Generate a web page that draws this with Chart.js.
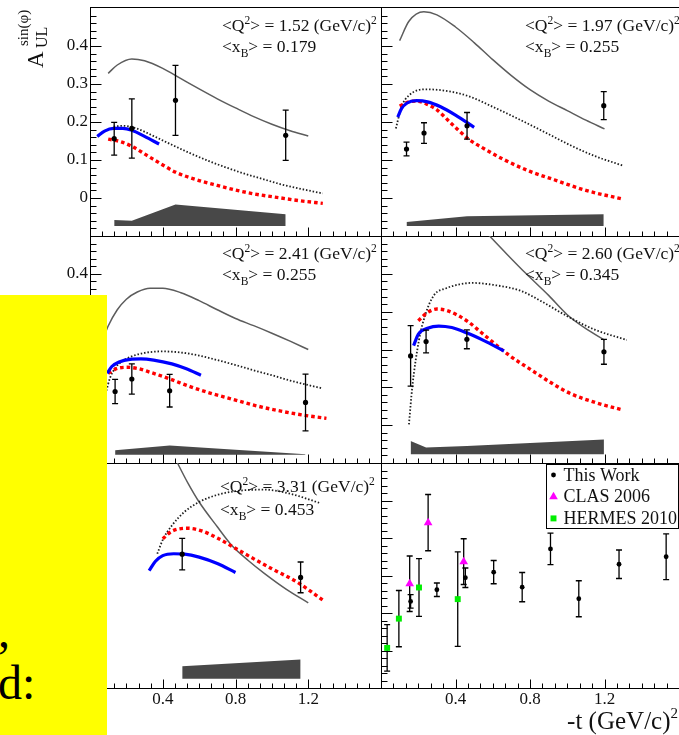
<!DOCTYPE html>
<html>
<head>
<meta charset="utf-8">
<title>Beam-spin asymmetry sin(phi) moment vs -t</title>
<script src="https://cdn.jsdelivr.net/npm/chart.js@4.4.1/dist/chart.umd.min.js"></script>
<style>
  html, body { margin: 0; padding: 0; background: #fff; }
  #page { position: relative; width: 679px; height: 735px; overflow: hidden; background: #fff;
          font-family: 'Liberation Serif', 'Times New Roman', serif; color: #111; }
  #page canvas { position: absolute; left: 0; top: 0; }
  .kin { position: absolute; font-size: 17.5px; line-height: 18px; white-space: nowrap; }
  .kin sup { font-size: 11.5px; line-height: 0; vertical-align: 7px; }
  .kin sub { font-size: 11.5px; line-height: 0; vertical-align: -5px; }
  #ytitle { position: absolute; left: 2px; top: 22px; width: 62px; height: 32px; transform: rotate(-90deg); }
  #ytitle span { position: absolute; line-height: 1; white-space: nowrap; }
  #xtitle { position: absolute; right: 1px; top: 708px; font-size: 25px; line-height: 25px; white-space: nowrap; }
  #xtitle sup { font-size: 15px; line-height: 0; vertical-align: 11px; }
  #note { position: absolute; left: 0; top: 295px; width: 107px; height: 440px; background: #ffff00; overflow: hidden; }
  #note span { position: absolute; font-size: 48px; line-height: 48px; color: #000; white-space: nowrap; }
</style>
</head>
<body>
<div id="page">
  <canvas id="c1" width="679" height="735"></canvas>
  <canvas id="c2" width="679" height="735"></canvas>
  <canvas id="c3" width="679" height="735"></canvas>
  <canvas id="c4" width="679" height="735"></canvas>
  <canvas id="c5" width="679" height="735"></canvas>
  <canvas id="c6" width="679" height="735"></canvas>

  <div class="kin" style="left:222px;top:16px">&lt;Q<sup>2</sup>&gt; = 1.52 (GeV/c)<sup>2</sup></div>
  <div class="kin" style="left:222px;top:37px">&lt;x<sub>B</sub>&gt; = 0.179</div>
  <div class="kin" style="left:525px;top:16px">&lt;Q<sup>2</sup>&gt; = 1.97 (GeV/c)<sup>2</sup></div>
  <div class="kin" style="left:525px;top:37px">&lt;x<sub>B</sub>&gt; = 0.255</div>
  <div class="kin" style="left:222px;top:244px">&lt;Q<sup>2</sup>&gt; = 2.41 (GeV/c)<sup>2</sup></div>
  <div class="kin" style="left:222px;top:265px">&lt;x<sub>B</sub>&gt; = 0.255</div>
  <div class="kin" style="left:525px;top:244px">&lt;Q<sup>2</sup>&gt; = 2.60 (GeV/c)<sup>2</sup></div>
  <div class="kin" style="left:525px;top:265px">&lt;x<sub>B</sub>&gt; = 0.345</div>
  <div class="kin" style="left:220px;top:477px">&lt;Q<sup>2</sup>&gt; = 3.31 (GeV/c)<sup>2</sup></div>
  <div class="kin" style="left:220px;top:500px">&lt;x<sub>B</sub>&gt; = 0.453</div>

  <div id="ytitle">
    <span style="left:1px;top:7px;font-size:23px">A</span>
    <span style="left:21px;top:17px;font-size:16px">UL</span>
    <span style="left:23px;top:-1px;font-size:15px">sin(φ)</span>
  </div>
  <div id="xtitle">-t (GeV/c)<sup>2</sup></div>

  <div id="note">
    <span style="left:-2px;top:312px">,</span>
    <span style="left:-2px;top:364px">d:</span>
  </div>
</div>

<script>
// ---- kinematic bin 1: <Q2> = 1.52, <xB> = 0.179 ----
const b1_t  = [0.133, 0.230, 0.470, 1.076];
const b1_A  = [0.156, 0.183, 0.257, 0.165];
const b1_dA = [0.043, 0.078, 0.092, 0.066];
const b1_solid_t  = [0.10, 0.15, 0.23, 0.30, 0.40, 0.50, 0.60, 0.70, 0.80, 0.90, 1.00, 1.10, 1.20];
const b1_solid_A  = [0.328, 0.350, 0.366, 0.361, 0.341, 0.314, 0.287, 0.261, 0.237, 0.214, 0.194, 0.177, 0.163];
const b1_dotted_t = [0.13, 0.18, 0.25, 0.35, 0.45, 0.55, 0.65, 0.75, 0.85, 0.95, 1.05, 1.15, 1.28];
const b1_dotted_A = [0.188, 0.190, 0.184, 0.163, 0.140, 0.118, 0.098, 0.080, 0.064, 0.050, 0.036, 0.025, 0.012];
const b1_red_t    = [0.10, 0.17, 0.23, 0.32, 0.40, 0.47, 0.60, 0.70, 0.80, 0.90, 1.05, 1.15, 1.28];
const b1_red_A    = [0.155, 0.148, 0.136, 0.110, 0.087, 0.068, 0.046, 0.033, 0.021, 0.011, 0.000, -0.007, -0.014];
const b1_blue_t   = [0.04, 0.08, 0.13, 0.18, 0.23, 0.30, 0.38];
const b1_blue_A   = [0.162, 0.176, 0.183, 0.183, 0.178, 0.162, 0.142];
const b1_sys_t    = [0.133, 0.230, 0.470, 1.076];
const b1_sys_top  = [-0.058, -0.060, -0.017, -0.043];
const b1_sys_base = -0.074;

// ---- kinematic bin 2: <Q2> = 1.97, <xB> = 0.255 ----
const b2_t  = [0.137, 0.231, 0.462, 1.196];
const b2_A  = [0.129, 0.171, 0.190, 0.243];
const b2_dA = [0.018, 0.027, 0.035, 0.037];
const b2_solid_t  = [0.10, 0.15, 0.23, 0.30, 0.40, 0.50, 0.60, 0.70, 0.80, 0.90, 1.00, 1.10, 1.20];
const b2_solid_A  = [0.414, 0.465, 0.490, 0.482, 0.450, 0.409, 0.364, 0.322, 0.285, 0.255, 0.230, 0.205, 0.182];
const b2_dotted_t = [0.08, 0.11, 0.15, 0.24, 0.35, 0.47, 0.60, 0.75, 0.90, 1.02, 1.15, 1.30];
const b2_dotted_A = [0.183, 0.240, 0.270, 0.286, 0.282, 0.268, 0.240, 0.205, 0.168, 0.138, 0.110, 0.085];
const b2_red_t    = [0.10, 0.15, 0.19, 0.25, 0.30, 0.38, 0.47, 0.56, 0.66, 0.80, 0.93, 1.10, 1.30];
const b2_red_A    = [0.242, 0.253, 0.255, 0.246, 0.232, 0.195, 0.155, 0.128, 0.101, 0.070, 0.048, 0.020, -0.003];
const b2_blue_t   = [0.09, 0.11, 0.14, 0.19, 0.25, 0.32, 0.40, 0.50];
const b2_blue_A   = [0.213, 0.235, 0.250, 0.256, 0.253, 0.240, 0.218, 0.186];
const b2_sys_t    = [0.137, 0.462, 1.196];
const b2_sys_top  = [-0.063, -0.048, -0.043];
const b2_sys_base = -0.074;

// ---- kinematic bin 3: <Q2> = 2.41, <xB> = 0.255 ----
const b3_t  = [0.138, 0.230, 0.438, 1.185];
const b3_A  = [0.089, 0.122, 0.091, 0.060];
const b3_dA = [0.032, 0.040, 0.043, 0.075];
const b3_solid_t  = [0.07, 0.10, 0.15, 0.20, 0.26, 0.33, 0.40, 0.50, 0.60, 0.70, 0.80, 0.90, 1.00, 1.10, 1.20];
const b3_solid_A  = [0.225, 0.262, 0.305, 0.333, 0.352, 0.362, 0.362, 0.350, 0.329, 0.305, 0.282, 0.263, 0.243, 0.222, 0.200];
const b3_dotted_t = [0.09, 0.11, 0.14, 0.18, 0.23, 0.30, 0.40, 0.50, 0.60, 0.70, 0.80, 0.90, 1.00, 1.10, 1.20, 1.28];
const b3_dotted_A = [0.091, 0.125, 0.152, 0.170, 0.182, 0.191, 0.195, 0.192, 0.184, 0.172, 0.159, 0.145, 0.132, 0.118, 0.106, 0.097];
const b3_red_t    = [0.10, 0.15, 0.20, 0.26, 0.33, 0.44, 0.55, 0.66, 0.78, 0.90, 1.05, 1.18, 1.30];
const b3_red_A    = [0.137, 0.150, 0.153, 0.150, 0.140, 0.122, 0.102, 0.085, 0.069, 0.053, 0.037, 0.026, 0.018];
const b3_blue_t   = [0.095, 0.12, 0.16, 0.22, 0.28, 0.35, 0.45, 0.53, 0.61];
const b3_blue_A   = [0.137, 0.155, 0.167, 0.174, 0.175, 0.172, 0.162, 0.149, 0.132];
const b3_sys_t    = [0.138, 0.438, 1.185];
const b3_sys_top  = [-0.066, -0.054, -0.077];
const b3_sys_base = -0.078;

// ---- kinematic bin 4: <Q2> = 2.60, <xB> = 0.345 ----
const b4_t  = [0.159, 0.242, 0.461, 1.197];
const b4_A  = [0.183, 0.221, 0.227, 0.194];
const b4_dA = [0.080, 0.030, 0.025, 0.033];
const b4_solid_t  = [0.45, 0.583, 0.68, 0.78, 0.90, 1.00, 1.10, 1.20];
const b4_solid_A  = [0.570, 0.500, 0.450, 0.400, 0.343, 0.292, 0.255, 0.225];
const b4_dotted_t = [0.150, 0.168, 0.204, 0.24, 0.285, 0.35, 0.42, 0.49, 0.60, 0.75, 0.87, 1.00, 1.15, 1.32];
const b4_dotted_A = [0.002, 0.101, 0.225, 0.295, 0.344, 0.362, 0.372, 0.376, 0.371, 0.355, 0.325, 0.288, 0.252, 0.225];
const b4_red_t    = [0.20, 0.25, 0.30, 0.36, 0.46, 0.55, 0.69, 0.80, 0.92, 1.02, 1.15, 1.30];
const b4_red_A    = [0.276, 0.298, 0.307, 0.302, 0.276, 0.240, 0.184, 0.148, 0.110, 0.083, 0.060, 0.040];
const b4_blue_t   = [0.175, 0.20, 0.25, 0.31, 0.38, 0.46, 0.55, 0.66];
const b4_blue_A   = [0.210, 0.240, 0.256, 0.262, 0.258, 0.244, 0.224, 0.196];
const b4_sys_t    = [0.159, 0.242, 0.461, 1.197];
const b4_sys_top  = [-0.042, -0.059, -0.055, -0.038];
const b4_sys_base = -0.077;

// ---- kinematic bin 5: <Q2> = 3.31, <xB> = 0.453 ----
const b5_t  = [0.507, 1.158];
const b5_A  = [0.257, 0.195];
const b5_dA = [0.042, 0.041];
const b5_solid_t  = [0.44, 0.483, 0.54, 0.60, 0.70, 0.78, 0.87, 0.96, 1.08, 1.20];
const b5_solid_A  = [0.540, 0.498, 0.445, 0.396, 0.330, 0.280, 0.240, 0.205, 0.163, 0.127];
const b5_dotted_t = [0.37, 0.40, 0.45, 0.52, 0.60, 0.70, 0.80, 0.96, 1.10, 1.26];
const b5_dotted_A = [0.258, 0.295, 0.333, 0.370, 0.396, 0.415, 0.425, 0.429, 0.418, 0.394];
const b5_red_t    = [0.40, 0.45, 0.54, 0.62, 0.70, 0.78, 0.88, 1.00, 1.14, 1.29];
const b5_red_A    = [0.298, 0.318, 0.326, 0.318, 0.300, 0.278, 0.250, 0.218, 0.182, 0.131];
const b5_blue_t   = [0.325, 0.36, 0.40, 0.46, 0.52, 0.60, 0.70, 0.80];
const b5_blue_A   = [0.213, 0.238, 0.253, 0.258, 0.257, 0.249, 0.232, 0.208];
const b5_sys_t    = [0.507, 1.158];
const b5_sys_top  = [-0.042, -0.024];
const b5_sys_base = -0.075;

// ---- t-dependence integrated over kinematics, with world data ----
const thisWork_t  = [0.159, 0.300, 0.453, 0.605, 0.758, 0.910, 1.062, 1.278, 1.531];
const thisWork_A  = [0.131, 0.162, 0.194, 0.209, 0.169, 0.271, 0.138, 0.230, 0.250];
const thisWork_dA = [0.018, 0.018, 0.026, 0.031, 0.039, 0.042, 0.048, 0.038, 0.061];
const clas2006_t  = [0.154, 0.253, 0.444];
const clas2006_A  = [0.178, 0.341, 0.237];
const clas2006_dA = [0.074, 0.075, 0.061];
const hermes2010_t  = [0.033, 0.096, 0.204, 0.412];
const hermes2010_A  = [0.007, 0.085, 0.168, 0.137];
const hermes2010_dA = [0.062, 0.075, 0.077, 0.126];

// axis ticks
const xTickLabels = ['0.4', '0.8', '1.2'];
const yTickLabels = ['0', '0.1', '0.2', '0.3', '0.4'];

// ---------------------------------------------------------------------------
const W = 679, H = 735;
const COLS = [[90, 381], [381, 679]];
const ROWS = [[8, 236], [236, 463], [463, 688]];
const TICK_FONT = { family: "'Liberation Serif', 'Times New Roman', serif", size: 17 };

const xy = (t, a) => t.map((v, i) => ({ x: v, y: a[i] }));

function curve(t, a, style) {
  return Object.assign({ data: xy(t, a), pointRadius: 0, fill: false,
    cubicInterpolationMode: 'monotone', borderCapStyle: 'butt' }, style);
}
const solid  = (t, a) => curve(t, a, { borderColor: '#5c5c5c', borderWidth: 1.5 });
const dotted = (t, a) => curve(t, a, { borderColor: '#1e1e1e', borderWidth: 1.8, borderDash: [1.5, 1.9] });
const red    = (t, a) => curve(t, a, { borderColor: '#ff0000', borderWidth: 3.4, borderDash: [3.6, 3] });
const blue   = (t, a) => curve(t, a, { borderColor: '#0000ff', borderWidth: 3.2 });

function band(t, top, base) {
  return { data: xy(t, top), fill: { value: base }, backgroundColor: '#484848',
    borderWidth: 0, pointRadius: 0, tension: 0 };
}
function markers(label, t, a, da, style) {
  return Object.assign({ label, data: xy(t, a), errors: da, showLine: false,
    pointStyle: 'circle', pointRadius: 2.6, pointBackgroundColor: '#000',
    pointBorderWidth: 0, borderColor: '#000', backgroundColor: '#000' }, style);
}

// ROOT-style frame: axis lines with inward major/minor ticks
const rootFrame = {
  id: 'rootFrame',
  afterDatasetsDraw(chart, args, opts) {
    const { ctx, chartArea: a, scales: { x, y } } = chart;
    const L = Math.round(a.left) + 0.5, B = Math.round(a.bottom) + 0.5;
    ctx.save();
    ctx.strokeStyle = '#000';
    ctx.lineWidth = 1;
    ctx.beginPath();
    ctx.moveTo(L, opts.topLine ? Math.round(a.top) - 1 : Math.round(a.top));
    ctx.lineTo(L, B);
    ctx.moveTo(L - 0.5, B);
    ctx.lineTo(Math.round(a.right), B);
    if (opts.topLine) {
      ctx.moveTo(L - 0.5, Math.round(a.top) - 0.5);
      ctx.lineTo(Math.round(a.right), Math.round(a.top) - 0.5);
    }
    const yStep = 0.02, ny = Math.round((y.max - y.min) / yStep);
    for (let i = 1; i < ny; i++) {
      const py = Math.round(y.getPixelForValue(y.min + i * yStep)) + 0.5;
      ctx.moveTo(L, py);
      ctx.lineTo(L + (i % 5 === 0 ? 11 : 6), py);
    }
    const xStep = 0.4 / 6, nx = Math.round((x.max - x.min) / xStep);
    for (let i = 1; i <= nx; i++) {
      const px = Math.round(x.getPixelForValue(x.min + i * xStep)) + 0.5;
      ctx.moveTo(px, B);
      ctx.lineTo(px, B - (i % 6 === 0 ? 9 : 5));
    }
    ctx.stroke();
    ctx.restore();
  }
};

// vertical error bars with small caps, drawn just under each marker set
const errorBars = {
  id: 'errorBars',
  beforeDatasetDraw(chart, args) {
    const ds = chart.data.datasets[args.index];
    if (!ds.errors) return;
    const { ctx, scales: { y } } = chart;
    ctx.save();
    ctx.strokeStyle = '#000';
    ctx.lineWidth = 1.3;
    ctx.beginPath();
    args.meta.data.forEach((pt, i) => {
      const v = ds.data[i].y, e = ds.errors[i];
      const y1 = y.getPixelForValue(v + e), y2 = y.getPixelForValue(v - e);
      ctx.moveTo(pt.x, y1); ctx.lineTo(pt.x, y2);
      ctx.moveTo(pt.x - 3, y1); ctx.lineTo(pt.x + 3, y1);
      ctx.moveTo(pt.x - 3, y2); ctx.lineTo(pt.x + 3, y2);
    });
    ctx.stroke();
    ctx.restore();
  }
};

// boxed legend in the upper right corner of the plot area
const boxLegend = {
  id: 'boxLegend',
  afterDraw(chart, args, opts) {
    if (!opts.show) return;
    const { ctx, chartArea: a } = chart;
    const items = chart.data.datasets.filter(d => d.label);
    const w = 132, h = 64;
    const x0 = Math.round(a.right) - w - 0.5, y0 = Math.round(a.top) + 1.5;
    ctx.save();
    ctx.fillStyle = '#fff';
    ctx.fillRect(x0, y0, w, h);
    ctx.strokeStyle = '#000';
    ctx.lineWidth = 1;
    ctx.strokeRect(x0, y0, w, h);
    ctx.font = "18px 'Liberation Serif', 'Times New Roman', serif";
    ctx.textBaseline = 'middle';
    items.forEach((d, i) => {
      const cy = y0 + 10.5 + i * 21.7;
      ctx.fillStyle = d.pointBackgroundColor;
      ctx.strokeStyle = d.pointBackgroundColor;
      Chart.helpers.drawPoint(ctx, { pointStyle: d.pointStyle, radius: d.pointRadius, rotation: 0, borderWidth: 0 }, x0 + 7, cy);
      ctx.fillStyle = '#111';
      ctx.fillText(d.label, x0 + 17, cy + 1);
    });
    ctx.restore();
  }
};

function makePanel(id, col, row, datasets, opt) {
  const yw = opt.yLabels ? 40 : 0, xh = opt.xLabels ? 32 : 0;
  const [left, right] = COLS[col], [top, bottom] = ROWS[row];
  new Chart(document.getElementById(id), {
    type: 'line',
    data: { datasets },
    options: {
      responsive: false, animation: false, devicePixelRatio: 1,
      layout: { autoPadding: false,
        padding: { left: left - yw, top, right: W - right, bottom: H - bottom - xh } },
      plugins: {
        legend: { display: false }, tooltip: { enabled: false },
        rootFrame: { topLine: row === 0 },
        boxLegend: { show: !!opt.legend }
      },
      scales: {
        x: {
          type: 'linear', min: 0, max: 1.6, display: !!opt.xLabels,
          grid: { display: false, drawTicks: false }, border: { display: false },
          ticks: { stepSize: 0.4, padding: 1, maxRotation: 0, autoSkip: false, font: TICK_FONT, color: '#111',
            callback: v => { const s = v.toFixed(1); return xTickLabels.includes(s) ? s : ''; } },
          afterFit: s => { s.height = xh; s.paddingLeft = 0; s.paddingRight = 0; }
        },
        y: {
          type: 'linear', min: -0.1, max: 0.5, display: !!opt.yLabels,
          grid: { display: false, drawTicks: false }, border: { display: false },
          ticks: { stepSize: 0.1, padding: 2, autoSkip: false, font: TICK_FONT, color: '#111',
            callback: v => { const s = Math.abs(v) < 1e-6 ? '0' : v.toFixed(1); return yTickLabels.includes(s) ? s : ''; } },
          afterFit: s => { s.width = yw; s.paddingTop = 0; s.paddingBottom = 0; }
        }
      }
    },
    plugins: [rootFrame, errorBars, boxLegend]
  });
}

function binSets(t, A, dA, so, do_, re, bl, sys) {
  return [
    markers(undefined, t, A, dA, {}),
    blue(bl[0], bl[1]),
    red(re[0], re[1]),
    dotted(do_[0], do_[1]),
    solid(so[0], so[1]),
    band(sys[0], sys[1], sys[2])
  ];
}

makePanel('c1', 0, 0, binSets(b1_t, b1_A, b1_dA, [b1_solid_t, b1_solid_A], [b1_dotted_t, b1_dotted_A],
  [b1_red_t, b1_red_A], [b1_blue_t, b1_blue_A], [b1_sys_t, b1_sys_top, b1_sys_base]), { yLabels: true });
makePanel('c2', 1, 0, binSets(b2_t, b2_A, b2_dA, [b2_solid_t, b2_solid_A], [b2_dotted_t, b2_dotted_A],
  [b2_red_t, b2_red_A], [b2_blue_t, b2_blue_A], [b2_sys_t, b2_sys_top, b2_sys_base]), {});
makePanel('c3', 0, 1, binSets(b3_t, b3_A, b3_dA, [b3_solid_t, b3_solid_A], [b3_dotted_t, b3_dotted_A],
  [b3_red_t, b3_red_A], [b3_blue_t, b3_blue_A], [b3_sys_t, b3_sys_top, b3_sys_base]), { yLabels: true });
makePanel('c4', 1, 1, binSets(b4_t, b4_A, b4_dA, [b4_solid_t, b4_solid_A], [b4_dotted_t, b4_dotted_A],
  [b4_red_t, b4_red_A], [b4_blue_t, b4_blue_A], [b4_sys_t, b4_sys_top, b4_sys_base]), {});
makePanel('c5', 0, 2, binSets(b5_t, b5_A, b5_dA, [b5_solid_t, b5_solid_A], [b5_dotted_t, b5_dotted_A],
  [b5_red_t, b5_red_A], [b5_blue_t, b5_blue_A], [b5_sys_t, b5_sys_top, b5_sys_base]), { yLabels: true, xLabels: true });
makePanel('c6', 1, 2, [
  markers('This Work', thisWork_t, thisWork_A, thisWork_dA, { pointRadius: 2.4 }),
  markers('CLAS 2006', clas2006_t, clas2006_A, clas2006_dA,
    { pointStyle: 'triangle', pointRadius: 5, pointBackgroundColor: '#ff00ff', borderColor: '#ff00ff' }),
  markers('HERMES 2010', hermes2010_t, hermes2010_A, hermes2010_dA,
    { pointStyle: 'rect', pointRadius: 4.2, pointBackgroundColor: '#00ee00', borderColor: '#00ee00' })
], { xLabels: true, legend: true });
</script>
</body>
</html>
